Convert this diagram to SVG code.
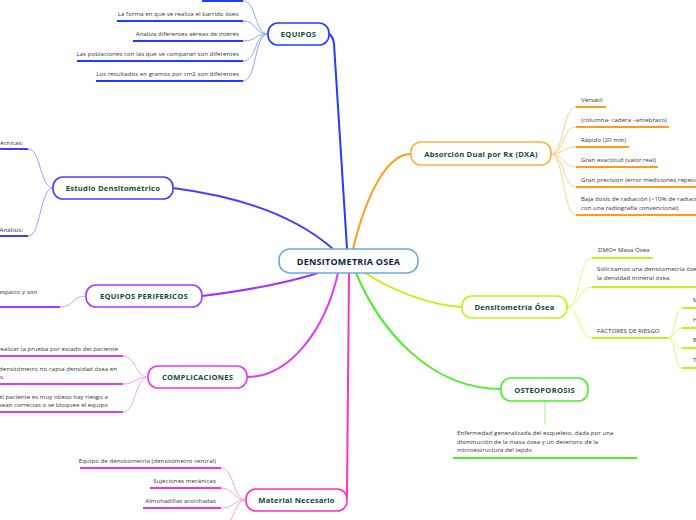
<svg xmlns="http://www.w3.org/2000/svg" width="696" height="520" viewBox="0 0 696 520">
<style>
.n rect{fill:#fff;stroke-width:1.6}
.lbl{font-family:"Open Sans","Noto Sans",sans-serif;font-weight:bold;font-size:7.6px;fill:#0f4a3a;text-anchor:middle;letter-spacing:0.25px}
.t{font-family:"Open Sans","Noto Sans",sans-serif;font-size:6.1px;fill:#333;letter-spacing:0.05px}
.e{text-anchor:end}
.u{stroke-width:2;fill:none}
.c{fill:none;stroke-width:1}
.m{fill:none;stroke-width:2}
</style>
<rect width="696" height="520" fill="#fff"/>
<g id="connectors">
  <path class="m" stroke="#1f3cff" d="M347,249 C342,160 336,70 334,44 Q333,36 329,34"/>
  <path class="m" stroke="#4a3cff" d="M333,249 C300,220 250,198 173,188"/>
  <path class="m" stroke="#9a36ff" d="M318,273 C290,282 250,290 202,296"/>
  <path class="m" stroke="#dd3cf0" d="M338,273 C325,330 290,377 247,377"/>
  <path class="m" stroke="#ff2fc8" d="M349,273 L347,494 Q347,500 345,500"/>
  <path class="m" stroke="#ff9a1a" d="M353,249 C365,200 385,154 411,154"/>
  <path class="m" stroke="#c8ee14" d="M365,273 C395,292 430,305 462,307"/>
  <path class="m" stroke="#4cee2a" d="M356,273 C380,330 430,389 501,389"/>
  <g stroke="#93a4ff" class="c">
    <path d="M268,34 C254,34 257,1 243,1"/>
    <path d="M268,34 C254,34 257,21 243,21"/>
    <path d="M268,34 C254,34 257,41 243,41"/>
    <path d="M268,34 C254,34 257,61 243,61"/>
    <path d="M268,34 C254,34 257,81 243,81"/>
  </g>
  <g stroke="#a39bff" class="c">
    <path d="M53,188 C40,188 41,149 28,149"/>
    <path d="M53,188 C40,188 41,236 28,236"/>
  </g>
  <path class="c" stroke="#c99bff" d="M86,296 C72,296 74,307 60,307"/>
  <g stroke="#f0a6fa" class="c">
    <path d="M148,377 C135,377 136,356 123,356"/>
    <path d="M148,377 C135,377 136,384 123,384"/>
    <path d="M148,377 C135,377 136,412 123,412"/>
  </g>
  <g stroke="#ff9ee4" class="c">
    <path d="M246,500 C233,500 234,468 221,468"/>
    <path d="M246,500 C233,500 234,488 221,488"/>
    <path d="M246,500 C233,500 234,508 221,508"/>
    <path d="M246,500 C233,500 234,528 221,528"/>
  </g>
  <g stroke="#ffcf85" class="c">
    <path d="M551,154 C564,154 563,107 576,107"/>
    <path d="M551,154 C564,154 563,127 576,127"/>
    <path d="M551,154 C564,154 563,147 576,147"/>
    <path d="M551,154 C564,154 563,167 576,167"/>
    <path d="M551,154 C564,154 563,187 576,187"/>
    <path d="M551,154 C564,154 563,215 576,215"/>
  </g>
  <g stroke="#e2f77a" class="c">
    <path d="M567,307 C580,307 579,258 592,258"/>
    <path d="M567,307 C580,307 579,287 592,287"/>
    <path d="M567,307 C580,307 579,338 592,338"/>
    <path d="M668,338 C675,338 675,308 682,308"/>
    <path d="M668,338 C675,338 675,328 682,328"/>
    <path d="M668,338 C675,338 675,348 682,348"/>
    <path d="M668,338 C675,338 675,368 682,368"/>
  </g>
  <path class="c" stroke="#9ff58a" d="M545,401 V425"/>
</g>

<g id="central" class="n">
  <rect x="279" y="249" width="139" height="24" rx="11" stroke="#6aa9dc"/>
  <text x="348.5" y="264.5" class="lbl" style="font-size:9px;fill:#0d2240">DENSITOMETRIA OSEA</text>
</g>

<g id="equipos" class="n">
  <rect x="268" y="23" width="61" height="22" rx="10" stroke="#1f3cff"/>
  <text x="298.5" y="37" class="lbl">EQUIPOS</text>
</g>
<g id="equipos-children">
  <path class="u" stroke="#1f3cff" d="M202,1 H243"/>
  <text x="239" y="16" class="t e">La forma en que se realiza el barrido óseo</text>
  <path class="u" stroke="#1f3cff" d="M117,21 H243"/>
  <text x="239" y="36" class="t e">Analiza diferentes aéreas de interés</text>
  <path class="u" stroke="#1f3cff" d="M133,41 H243"/>
  <text x="239" y="55.5" class="t e">Las poblaciones con las que se comparan son diferentes</text>
  <path class="u" stroke="#1f3cff" d="M77,61 H243"/>
  <text x="239" y="75.5" class="t e">Los resultados en gramos por cm2 son diferentes</text>
  <path class="u" stroke="#1f3cff" d="M96,81 H243"/>
</g>

<g id="estudio" class="n">
  <rect x="53" y="177" width="120" height="22" rx="10" stroke="#4a3cff"/>
  <text x="113" y="191" class="lbl">Estudio Densitométrico</text>
</g>
<g id="estudio-children">
  <text x="23" y="145" class="t e">Técnicas:</text>
  <path class="u" stroke="#4a3cff" d="M0,149 H28"/>
  <text x="23" y="231.5" class="t e">Análisis:</text>
  <path class="u" stroke="#4a3cff" d="M0,236 H28"/>
</g>

<g id="perifericos" class="n">
  <rect x="86" y="285" width="116" height="22" rx="10" stroke="#a23cff"/>
  <text x="144" y="299" class="lbl">EQUIPOS PERIFERICOS</text>
</g>
<g id="perifericos-children">
  <text x="-1.5" y="294" class="t">espacio y son</text>
  <path class="u" stroke="#a23cff" d="M0,307 H60"/>
</g>

<g id="complicaciones" class="n">
  <rect x="148" y="366" width="99" height="22" rx="10" stroke="#dd3cf0"/>
  <text x="197.5" y="380" class="lbl">COMPLICACIONES</text>
</g>
<g id="complicaciones-children">
  <text x="118" y="351" class="t e">realizar la prueba por estado del paciente</text>
  <path class="u" stroke="#dd3cf0" d="M0,356 H123"/>
  <text x="117" y="371" class="t e">el densitómetro no capta densidad ósea en</text>
  <text x="0" y="379" class="t">s.</text>
  <path class="u" stroke="#dd3cf0" d="M0,384 H123"/>
  <text x="108" y="399" class="t e">el paciente es muy obeso hay riesgo a</text>
  <text x="108" y="407" class="t e">e sean correctas o se bloquee el equipo</text>
  <path class="u" stroke="#dd3cf0" d="M0,412 H123"/>
</g>

<g id="material" class="n">
  <rect x="246" y="489" width="101" height="22" rx="10" stroke="#ff2fc8"/>
  <text x="296.5" y="503" class="lbl">Material Necesario</text>
</g>
<g id="material-children">
  <text x="216" y="463" class="t e">Equipo de densitometría (densitómetro central)</text>
  <path class="u" stroke="#ff2fc8" d="M80,468 H221"/>
  <text x="216" y="483" class="t e">Sujeciones mecánicas</text>
  <path class="u" stroke="#ff2fc8" d="M150,488 H221"/>
  <text x="216" y="503" class="t e">Almohadillas acolchadas</text>
  <path class="u" stroke="#ff2fc8" d="M143,508 H221"/>
  <text x="216" y="523.5" class="t e">Calibrador:</text>
</g>

<g id="dxa" class="n">
  <rect x="411" y="142" width="140" height="23" rx="10" stroke="#ffb040"/>
  <text x="481" y="156.5" class="lbl">Absorción Dual por Rx (DXA)</text>
</g>
<g id="dxa-children">
  <text x="581" y="102" class="t">Versátil</text>
  <path class="u" stroke="#ff9a1a" d="M576,107 H606"/>
  <text x="581" y="122" class="t">(columna- cadera –antebrazo)</text>
  <path class="u" stroke="#ff9a1a" d="M576,127 H669"/>
  <text x="581" y="142" class="t">Rápido (20 min)</text>
  <path class="u" stroke="#ff9a1a" d="M576,147 H629"/>
  <text x="581" y="162" class="t">Gran exactitud (valor real)</text>
  <path class="u" stroke="#ff9a1a" d="M576,167 H658"/>
  <text x="581" y="182" class="t">Gran precisión (error mediciones repetidas)</text>
  <path class="u" stroke="#ff9a1a" d="M576,187 H700"/>
  <text x="581" y="201" class="t">Baja dosis de radiación (&lt;10% de radiación</text>
  <text x="581" y="210" class="t">con una radiografía convencional)</text>
  <path class="u" stroke="#ff9a1a" d="M576,215 H700"/>
</g>

<g id="densitometria" class="n">
  <rect x="462" y="296" width="105" height="22" rx="10" stroke="#c8ee14"/>
  <text x="514.5" y="310" class="lbl">Densitometría Ósea</text>
</g>
<g id="densitometria-children">
  <text x="598" y="252" class="t">DMO= Masa Ósea</text>
  <path class="u" stroke="#c8ee14" d="M592,258 H653"/>
  <text x="597" y="271" class="t">Solicitamos una densitometría ósea</text>
  <text x="597" y="280" class="t">la densidad mineral ósea.</text>
  <path class="u" stroke="#c8ee14" d="M592,287 H700"/>
  <text x="597" y="333" class="t">FACTORES DE RIESGO</text>
  <path class="u" stroke="#c8ee14" d="M592,338 H668"/>
  <text x="693" y="302" class="t">M</text>
  <path class="u" stroke="#c8ee14" d="M682,308 H700"/>
  <text x="693" y="322" class="t">H</text>
  <path class="u" stroke="#c8ee14" d="M682,328 H700"/>
  <text x="693" y="342" class="t">B</text>
  <path class="u" stroke="#c8ee14" d="M682,348 H700"/>
  <text x="693" y="362" class="t">T</text>
  <path class="u" stroke="#c8ee14" d="M682,368 H700"/>
</g>

<g id="osteoporosis" class="n">
  <rect x="501" y="378" width="87" height="23" rx="10" stroke="#4cee2a"/>
  <text x="544.5" y="392.5" class="lbl">OSTEOPOROSIS</text>
</g>
<g id="osteoporosis-children">
  <text x="457" y="435" class="t">Enfermedad generalizada del esqueleto, dada por una</text>
  <text x="457" y="443.5" class="t">disminución de la masa ósea y un deterioro de la</text>
  <text x="457" y="452" class="t">microestructura del tejido</text>
  <path class="u" stroke="#4cee2a" d="M453,458 H637"/>
</g>
</svg>
